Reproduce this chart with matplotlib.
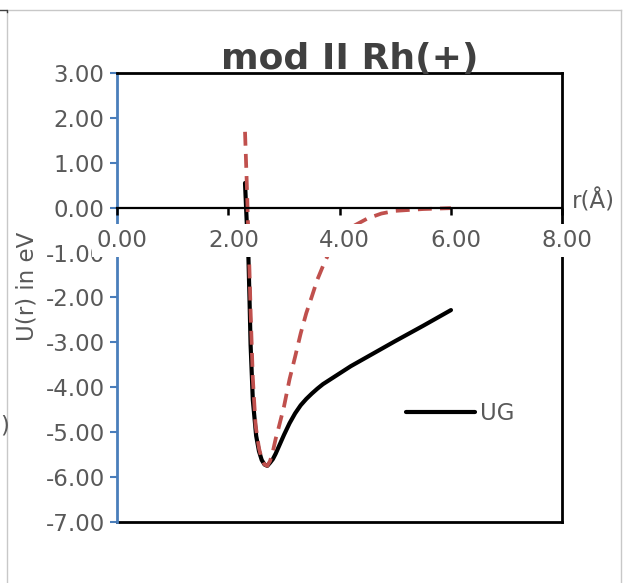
import matplotlib
matplotlib.use("Agg")
import matplotlib.pyplot as plt
from matplotlib.lines import Line2D
from matplotlib.transforms import ScaledTranslation

plt.rcParams['axes.unicode_minus'] = False

# UG curve (solid black)
r_ug = [2.30, 2.33, 2.36, 2.38, 2.40, 2.44, 2.50, 2.55, 2.60, 2.65, 2.70, 2.75,
        2.80, 2.85, 2.90, 3.00, 3.10, 3.20, 3.30, 3.40, 3.50, 3.60, 3.70, 3.80,
        3.90, 4.00, 4.20, 4.40, 4.70, 5.00, 5.50, 6.00]
u_ug = [0.55, -0.30, -1.05, -2.00, -3.05, -4.28, -5.08, -5.42, -5.62, -5.72,
        -5.75, -5.68, -5.60, -5.48, -5.34, -5.06, -4.80, -4.58, -4.40, -4.26,
        -4.14, -4.03, -3.93, -3.85, -3.77, -3.69, -3.53, -3.39, -3.18, -2.97,
        -2.63, -2.28]

# model curve (red dashed)
r_fit = [2.30, 2.33, 2.36, 2.38, 2.40, 2.44, 2.49, 2.55, 2.60, 2.65, 2.70, 2.75,
         2.80, 2.85, 2.90, 3.00, 3.10, 3.20, 3.30, 3.40, 3.50, 3.60, 3.70, 3.80,
         4.00, 4.20, 4.50, 4.75, 5.00, 5.50, 6.00]
u_fit = [1.69, 0.60, -0.60, -1.40, -2.30, -3.80, -4.85, -5.35, -5.60, -5.72,
         -5.75, -5.64, -5.43, -5.15, -4.92, -4.43, -3.82, -3.32, -2.80, -2.35,
         -1.98, -1.60, -1.30, -1.03, -0.68, -0.44, -0.24, -0.13, -0.07, -0.03,
         -0.01]

x_ticks = [0, 2, 4, 6, 8]
y_ticks = [-7, -6, -5, -4, -3, -2, -1, 0, 1, 2, 3]

W, H = 629, 583
GREY = '#595959'
BLUE = '#4a7ebb'
FS = 16.5

fig = plt.figure(figsize=(W / 100, H / 100), dpi=100)
ax = fig.add_axes([117 / W, 1 - 522 / H, (562.3 - 117) / W, (522 - 73) / H])

ug_line, = ax.plot(r_ug, u_ug, color='black', lw=3.0, zorder=2.2,
                   solid_joinstyle='round', solid_capstyle='round')
ax.plot(r_fit, u_fit, color='#c0504d', lw=2.7, dashes=(3.7, 2.2),
        zorder=2.3, label='_nolegend_')

ax.set_xlim(0, 8)
ax.set_ylim(-7, 3)
ax.set_xticks(x_ticks)
ax.set_yticks(y_ticks)
ax.xaxis.set_major_formatter('{x:.2f}')
ax.yaxis.set_major_formatter('{x:.2f}')

# spines: blue value axis, category axis crossing at 0, black plot border
ax.spines['left'].set_color(BLUE)
ax.spines['left'].set_linewidth(2)
ax.spines['bottom'].set_position(('data', 0))
ax.spines['bottom'].set_linewidth(1.6)
for s in ['top', 'right']:
    ax.spines[s].set_color('black')
    ax.spines[s].set_linewidth(2)
ax.plot([0, 1], [0, 0], transform=ax.transAxes, color='black', lw=2,
        clip_on=False, zorder=2.5)

ax.tick_params(axis='x', direction='out', length=5.2, width=1.8,
               color='black', pad=10, labelsize=FS, labelcolor=GREY)
ax.tick_params(axis='y', direction='out', length=5.4, width=1.5,
               color=BLUE, pad=3.5, labelsize=FS, labelcolor=GREY)
ax.xaxis.set_zorder(4)
shift = ScaledTranslation(5 / 100, 0, fig.dpi_scale_trans)
for t in ax.xaxis.get_major_ticks():
    t.label1.set_bbox(dict(facecolor='white', edgecolor='none', pad=3.5))
    t.label1.set_transform(t.label1.get_transform() + shift)

ax.legend(handles=[ug_line], labels=['UG'], loc='center left',
          bbox_to_anchor=(406 / W, 1 - 414 / H), bbox_transform=fig.transFigure,
          frameon=False, borderpad=0, borderaxespad=0, handlelength=3.0,
          handletextpad=0.25, fontsize=FS, labelcolor=GREY)

fig.text(350 / W, 1 - 69 / H, 'mod II Rh(+)', ha='center', va='baseline',
         fontsize=26, fontweight='bold', color='#404040')
fig.text(27 / W, 1 - 286 / H, 'U(r) in eV', rotation=90, ha='center',
         va='center', fontsize=FS, color=GREY)
fig.text(572 / W, 1 - 201 / H, 'r(Å)', ha='left', va='center', fontsize=FS,
         color=GREY)
fig.text(0, 1 - 426 / H, ')', ha='left', va='center', fontsize=FS,
         color=GREY)

# outer chart frame
frame = dict(color='#c8c8c8', lw=1, transform=fig.transFigure)
fig.add_artist(Line2D([7 / W, 621 / W], [1 - 10 / H, 1 - 10 / H], **frame))
fig.add_artist(Line2D([7 / W, 7 / W], [1 - 10 / H, 0], **frame))
fig.add_artist(Line2D([621 / W, 621 / W], [1 - 10 / H, 0], **frame))
fig.add_artist(Line2D([0, 7 / W, 7 / W], [1 - 9.5 / H, 1 - 9.5 / H, 1 - 12 / H],
                      color='#404040', lw=1, transform=fig.transFigure))

fig.savefig('out.png', dpi=100)
